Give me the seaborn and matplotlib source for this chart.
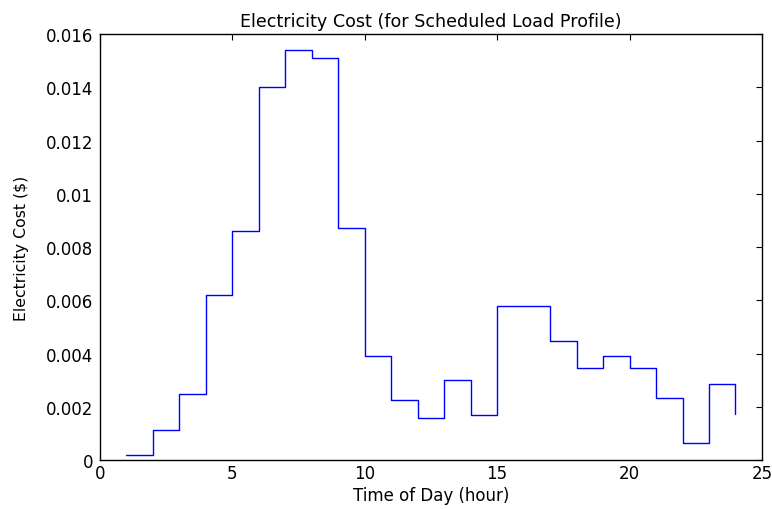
import matplotlib
matplotlib.use('Agg')
import matplotlib.pyplot as plt
from matplotlib.ticker import FuncFormatter
import seaborn as sns
import pandas as pd

hours = list(range(1, 25))
cost = [0.0002, 0.00111, 0.00247, 0.0062, 0.0086, 0.0140, 0.0154, 0.0151,
        0.0087, 0.0039, 0.00227, 0.00157, 0.00301, 0.00169, 0.00577, 0.00577,
        0.00447, 0.00344, 0.00391, 0.00345, 0.00232, 0.00065, 0.00284, 0.00174]

x_ticks = [0, 5, 10, 15, 20, 25]
y_ticks = [0, 0.002, 0.004, 0.006, 0.008, 0.01, 0.012, 0.014, 0.016]


def main():
    sns.set_style('white')
    plt.rcParams['font.family'] = ['DejaVu Sans']
    plt.rcParams['text.color'] = 'black'
    plt.rcParams['axes.labelcolor'] = 'black'

    df = pd.DataFrame({'hour': hours, 'cost': cost})

    fig = plt.figure(figsize=(7.72, 5.1), dpi=100)
    ax = fig.add_axes([0.1295, 0.096, 0.8575, 0.835])

    sns.lineplot(data=df, x='hour', y='cost', ax=ax, color='#0000ff',
                 linewidth=1.0, drawstyle='steps-post')

    ax.set_xlim(0, 25)
    ax.set_ylim(0, 0.016)
    ax.set_xticks(x_ticks)
    ax.set_yticks(y_ticks)
    ax.yaxis.set_major_formatter(FuncFormatter(lambda v, p: '{:g}'.format(round(v, 6))))
    ax.tick_params(axis='x', pad=3)
    ax.tick_params(axis='y', pad=5)
    ax.tick_params(direction='in', top=True, right=True, length=4, width=0.8,
                   labelsize=12, colors='black')

    for s in ax.spines.values():
        s.set_color('black')
        s.set_linewidth(1.0)

    ax.set_xlabel('Time of Day (hour)', fontsize=12, labelpad=3, color='black')
    ax.set_ylabel('Electricity Cost ($)', fontsize=11.3, labelpad=12, color='black')
    ax.set_title('Electricity Cost (for Scheduled Load Profile)', fontsize=12.6, pad=6,
                 color='black')

    fig.savefig('out.png', dpi=100)
    plt.close()


if __name__ == '__main__':
    main()
